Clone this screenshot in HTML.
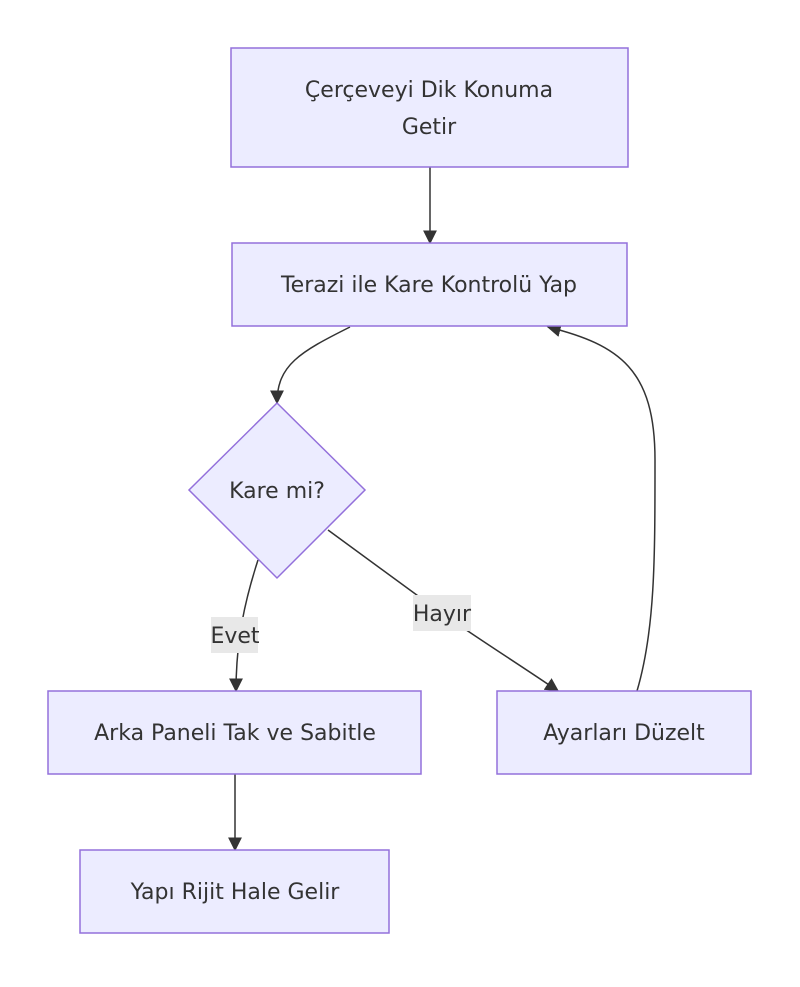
<!DOCTYPE html>
<html><head><meta charset="utf-8"><style>
html,body{margin:0;padding:0;background:#fff;}
svg text{font-family:"DejaVu Sans","Liberation Sans",sans-serif;font-size:22px;fill:#333;}
</style></head><body>
<svg width="800" height="982" viewBox="0 0 800 982" xmlns="http://www.w3.org/2000/svg">
<defs><marker id="b" viewBox="0 0 10 10" refX="9" refY="5" markerWidth="14" markerHeight="14" orient="auto" markerUnits="userSpaceOnUse"><path d="M0,0L10,5L0,10z" fill="#333"/></marker></defs>
<g fill="none" stroke="#333" stroke-width="1.5">
<path d="M430,167 L430,243" marker-end="url(#b)"/>
<path d="M350,327 C300,352 277,365 277,403" marker-end="url(#b)"/>
<path d="M258,560 C245,600 236,640 236,691" marker-end="url(#b)"/>
<path d="M328,530 L440,612 C480,640 520,665 558,691" marker-end="url(#b)"/>
<path d="M637,691 C655,630 655,560 655,460 C655,370 620,345 548,327" marker-end="url(#b)"/>
<path d="M235,774 L235,850" marker-end="url(#b)"/>
</g>
<g fill="#ECECFF" stroke="#9370DB" stroke-width="1.5">
<rect x="231" y="48" width="397" height="119"/>
<rect x="232" y="243" width="395" height="83"/>
<polygon points="277,403 365,490 277,578 189,490"/>
<rect x="48" y="691" width="373" height="83"/>
<rect x="497" y="691" width="254" height="83"/>
<rect x="80" y="850" width="309" height="83"/>
</g>
<rect x="211" y="617" width="47" height="36" fill="#e8e8e8"/>
<rect x="413" y="595" width="58" height="36" fill="#e8e8e8"/>
<g text-anchor="middle">
<text x="429" y="97">Çerçeveyi Dik Konuma</text>
<text x="429" y="134">Getir</text>
<text x="429" y="292">Terazi ile Kare Kontrolü Yap</text>
<text x="277" y="498">Kare mi?</text>
<text x="235" y="643">Evet</text>
<text x="442" y="621">Hayır</text>
<text x="235" y="740">Arka Paneli Tak ve Sabitle</text>
<text x="624" y="740">Ayarları Düzelt</text>
<text x="235" y="899">Yapı Rijit Hale Gelir</text>
</g>
</svg>
</body></html>
